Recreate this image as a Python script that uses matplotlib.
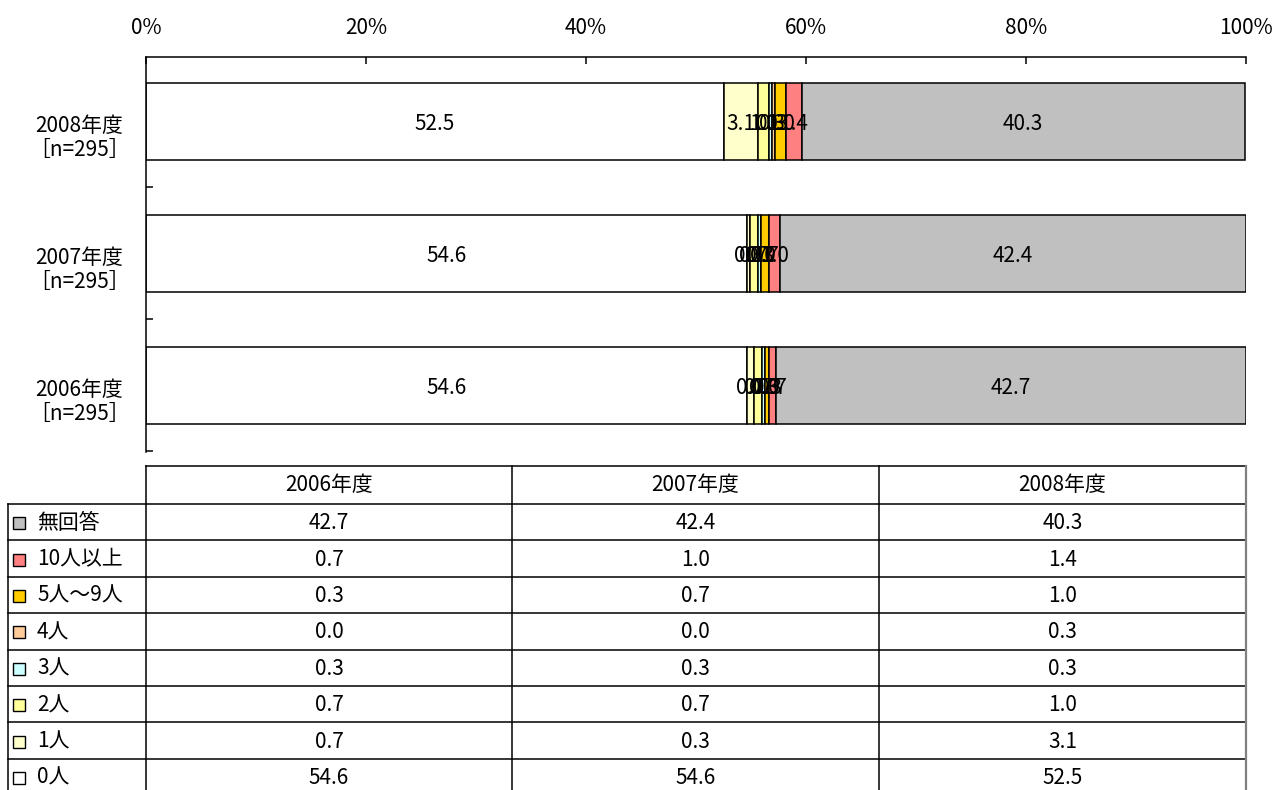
import matplotlib
matplotlib.use("Agg")
import matplotlib.pyplot as plt
from matplotlib.patches import Rectangle
from matplotlib.transforms import blended_transform_factory

plt.rcParams['font.family'] = ['Noto Sans CJK JP', 'DejaVu Sans']

# ---- data ----
years = ["2006年度", "2007年度", "2008年度"]
sample_sizes = ["［n=295］", "［n=295］", "［n=295］"]
categories = ["0人", "1人", "2人", "3人", "4人", "5人〜9人", "10人以上", "無回答"]
values_2006 = [54.6, 0.7, 0.7, 0.3, 0.0, 0.3, 0.7, 42.7]
values_2007 = [54.6, 0.3, 0.7, 0.3, 0.0, 0.7, 1.0, 42.4]
values_2008 = [52.5, 3.1, 1.0, 0.3, 0.3, 1.0, 1.4, 40.3]
series = [values_2006, values_2007, values_2008]
colors = ["#FFFFFF", "#FFFFCC", "#FFFF99", "#CCFFFF", "#FFCC99",
          "#FFCC00", "#FF8080", "#C0C0C0"]
xticks = [0, 20, 40, 60, 80, 100]

FS = 15
W, H = 1284, 790
fig = plt.figure(figsize=(W / 100, H / 100), dpi=100)

# ---- stacked bar chart ----
top_px, bot_px, left_px, right_px = 57, 452, 146, 1246
ax = fig.add_axes([left_px / W, 1 - bot_px / H,
                   (right_px - left_px) / W, (bot_px - top_px) / H])
ax.set_xlim(0, 100)
ax.set_ylim(-0.505, 2.485)
bar_h = 0.583
px = 1 / 132  # one pixel in category units

for yi, vals in enumerate(series):
    left = 0.0
    for v, c in zip(vals, colors):
        ax.barh(yi, v, left=left, height=bar_h, color=c,
                edgecolor="black", linewidth=1.1, zorder=2)
        ax.text(left + v / 2, yi - 3 * px, f"{v:.1f}", ha="center",
                va="center", fontsize=FS, zorder=3)
        left += v

ax.xaxis.tick_top()
ax.set_xticks(xticks)
ax.set_xticklabels([f"{t}%" for t in xticks])
ax.tick_params(axis="x", top=True, bottom=False, labeltop=True,
               labelbottom=False, direction="in", length=5, width=1.1,
               pad=13, labelsize=FS)
ax.set_yticks([-0.5, 0.5, 1.5])
ax.set_yticklabels([])
ax.tick_params(axis="y", direction="in", length=5, width=1.1)
for s in ("right", "bottom"):
    ax.spines[s].set_visible(False)
for s in ("top", "left"):
    ax.spines[s].set_linewidth(1.1)

trans = blended_transform_factory(fig.transFigure, ax.transData)
for yi, (yr, n) in enumerate(zip(years, sample_sizes)):
    ax.text(79 / W, yi - 4.5 * px, yr, transform=trans, ha="center",
            va="center", fontsize=FS)
    ax.text(79 / W, yi - 29 * px, n, transform=trans, ha="center",
            va="center", fontsize=FS)

# ---- data table ----
tab = fig.add_axes([0, 0, 1, 1])
tab.set_xlim(0, W)
tab.set_ylim(H, 0)
tab.axis("off")

col_x = [146, 512, 879, 1246]
head_top, head_bot, row_h = 466, 504, 36.4
lw = 1.1

tab.plot([col_x[0], col_x[-1]], [head_top, head_top], color="black", lw=lw)
n_rows = len(categories)
for i in range(n_rows):
    y = head_bot + i * row_h
    tab.plot([8, col_x[-1]], [y, y], color="black", lw=lw)
for x in col_x[:-1]:
    tab.plot([x, x], [head_top, H], color="black", lw=lw)
tab.plot([8, 8], [head_bot, H], color="black", lw=lw)
tab.plot([col_x[-1], col_x[-1]], [head_top, H], color="#808080", lw=1.6)

for j, yr in enumerate(years):
    cx = (col_x[j] + col_x[j + 1]) / 2
    tab.text(cx, (head_top + head_bot) / 2, yr, ha="center", va="center",
             fontsize=FS)

# rows listed from the last stacked segment to the first
for i, k in enumerate(reversed(range(n_rows))):
    cy = head_bot + (i + 0.5) * row_h + 1
    tab.add_patch(Rectangle((13, cy - 6), 12, 12, facecolor=colors[k],
                            edgecolor="black", linewidth=1.0))
    tab.text(37, cy, categories[k], ha="left", va="center", fontsize=FS)
    for j, vals in enumerate(series):
        cx = (col_x[j] + col_x[j + 1]) / 2
        tab.text(cx, cy, f"{vals[k]:.1f}", ha="center", va="center",
                 fontsize=FS)

fig.savefig("out.png", dpi=100)
